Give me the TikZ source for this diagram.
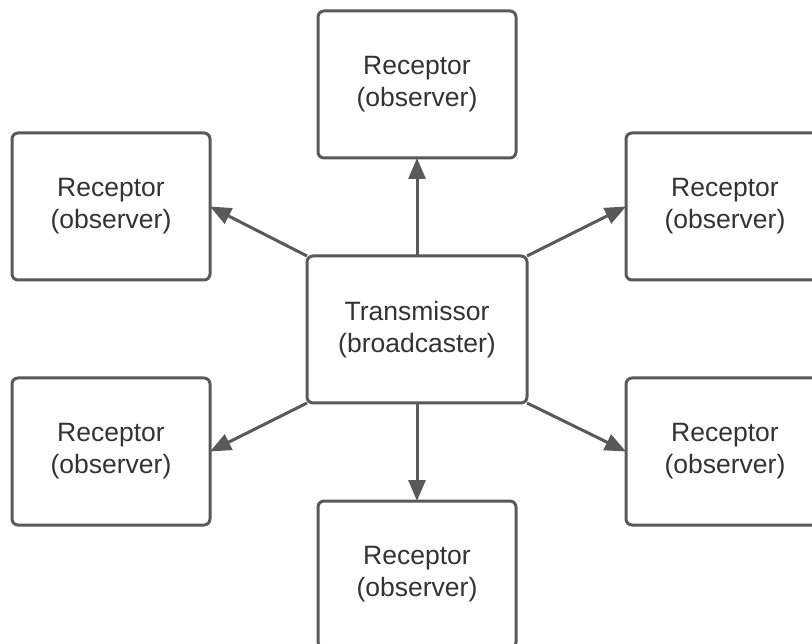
\documentclass[tikz,border=0pt]{standalone}
\usepackage{fontspec}
\setmainfont{Liberation Sans}
\usetikzlibrary{positioning, arrows.meta}
\definecolor{linegray}{HTML}{595959}
\definecolor{textgray}{HTML}{333333}
\begin{document}
\begin{tikzpicture}[x=1pt, y=1pt, node distance=98pt]
\tikzstyle{box}=[rectangle, rounded corners=6pt, line width=3pt, draw=linegray, fill=white,
  text=textgray, align=center, inner sep=0pt, outer sep=0pt, minimum height=147pt,
  font=\fontsize{26.5}{32}\selectfont]
\tikzstyle{rec}=[box, minimum width=198pt]
\tikzstyle{tx}=[box, minimum width=220pt]
\tikzstyle{send}=[-{Triangle[length=21pt, width=17pt]}, line width=3pt, draw=linegray, fill=linegray]
\useasboundingbox (0,0) rectangle (812,-644);
\clip (0,0) rectangle (812,-644);
% broadcaster in the middle
\node [tx] (tx) at (417,-329.5) {Transmissor\\(broadcaster)};
% observers round it
\node [rec] (rt) [above=of tx] {Receptor\\(observer)};
\node [rec] (rb) [below=of tx] {Receptor\\(observer)};
\node [rec] (rlt) [left=97pt of tx, yshift=123pt] {Receptor\\(observer)};
\node [rec] (rlb) [left=97pt of tx, yshift=-122pt] {Receptor\\(observer)};
\node [rec] (rrt) [right=99pt of tx, yshift=123pt] {Receptor\\(observer)};
\node [rec] (rrb) [right=99pt of tx, yshift=-122pt] {Receptor\\(observer)};
\draw [send] (tx.north) -- (rt.south);
\draw [send] (tx.south) -- (rb.north);
\draw [send] (tx.north west) -- (rlt.east);
\draw [send] (tx.south west) -- (rlb.east);
\draw [send] (tx.north east) -- (rrt.west);
\draw [send] (tx.south east) -- (rrb.west);
\end{tikzpicture}
\end{document}
